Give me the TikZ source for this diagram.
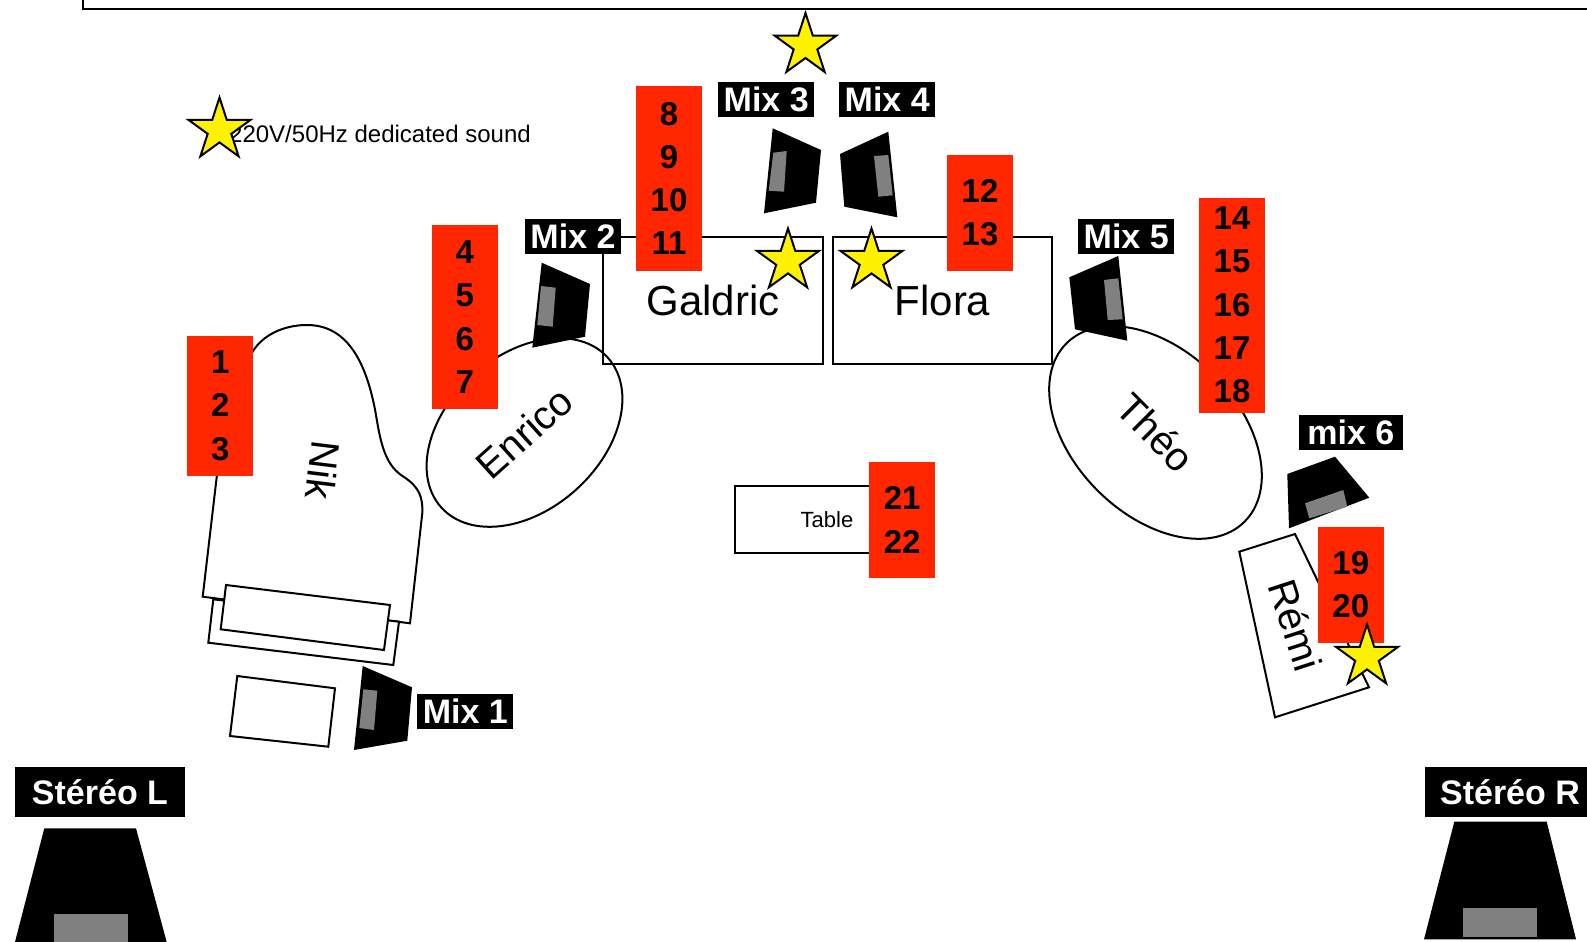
\documentclass[tikz,border=0pt]{standalone}
\usepackage{fontspec}
\setmainfont{Liberation Sans}
\usetikzlibrary{shapes.geometric}
\definecolor{stagered}{RGB}{255,38,0}
\definecolor{conegrey}{RGB}{128,128,128}
\begin{document}
\begin{tikzpicture}[x=1pt,y=-1pt]
	\tikzstyle{Channel} = [fill=stagered, minimum width=65.7, inner sep=0pt, align=center, font=\fontsize{33}{43.3}\selectfont\bfseries]
	\tikzstyle{Mix} = [fill=black, text=white, minimum width=95.7, minimum height=35, inner sep=0pt, font=\fontsize{34}{40}\selectfont\bfseries]
	\tikzstyle{Power} = [star, star points=5, star point ratio=2.618, draw, line width=2, fill=yellow, minimum size=65, inner sep=0pt]
	\tikzstyle{Player} = [ellipse, draw, line width=2, inner sep=0pt, font=\fontsize{40}{48}\selectfont]
	\tikzstyle{Desk} = [rectangle, draw, line width=2, inner sep=0pt, font=\fontsize{42}{50}\selectfont]
	\tikzstyle{Outline} = [draw, line width=2, fill=white]
	\tikzstyle{Wedge} = [fill=black]
	\tikzstyle{Cone} = [fill=conegrey]
	\useasboundingbox (0,0) rectangle (1587,942);
	\draw[line width=2.2] (83,-20) rectangle (1620,9);
	% piano, keys and bench
	\path[Outline] (202.7,596.7) -- (229,372) -- (247,372) .. controls (247,345) and (274,325) .. (307,325) .. controls (345,325) and (366,358) .. (376,415) .. controls (381,446) and (386,466) .. (404,477) .. controls (419,487) and (423,497) .. (422.3,513) -- (410,623.3) -- cycle;
	\path[Outline] (213.3,599.3) -- (399,621.7) -- (393.3,665) -- (208.3,642.7) -- cycle;
	\path[Outline] (226,585) -- (390,605) -- (384,650) -- (220.7,629.3) -- cycle;
	\path[Outline] (237.3,676) -- (335,688.3) -- (328.3,746.7) -- (230,736) -- cycle;
	\node (Nik) at (323.3,470) [rotate=-97, font=\fontsize{40}{48}\selectfont] {Nik};
	% players
	\node (Enrico) at (524.5,432.5) [Player, minimum width=224, minimum height=154, rotate=42] {Enrico};
	\node (Theo) at (1155.5,432.5) [Player, minimum width=252, minimum height=164, rotate=-45] {Théo};
	\node (Galdric) at (713,300.5) [Desk, minimum width=220, minimum height=127] {Galdric};
	\node (Flora) at (942.5,300.5) [Desk, minimum width=219, minimum height=127] {Flora};
	\node (Table) at (827,519.5) [Desk, minimum width=184, minimum height=67, font=\fontsize{22}{26}\selectfont] {Table};
	\path[Outline] (1239.3,551.7) -- (1295,534) -- (1369,687.3) -- (1275,717.3) -- cycle;
	\node (Remi) at (1296,625) [rotate=-72, font=\fontsize{40}{48}\selectfont] {Rémi};
	% monitors
	\fill[Wedge] (362.7,666) -- (412,687.3) -- (407.3,740.7) -- (354,750) -- cycle;
	\fill[Cone] (363.3,689.3) -- (377.3,690.7) -- (374,730) -- (359.3,728) -- cycle;
	\fill[Wedge] (541.7,262.7) -- (590,284) -- (585,336.7) -- (532.3,347.7) -- cycle;
	\fill[Cone] (541,286) -- (555.7,287.7) -- (552.7,326.7) -- (537.3,325) -- cycle;
	\fill[Wedge] (772.7,128.3) -- (821,150) -- (816,202.7) -- (764,213.3) -- cycle;
	\fill[Cone] (773.3,152.7) -- (786.7,151) -- (784,191.7) -- (768.7,190.7) -- cycle;
	\fill[Wedge] (840,154) -- (888.3,131.7) -- (897.3,217.3) -- (844.3,206.7) -- cycle;
	\fill[Cone] (874,156) -- (888.3,155) -- (892.7,195.3) -- (878.3,196.7) -- cycle;
	\fill[Wedge] (1069.3,277.3) -- (1118.3,256) -- (1127.3,340.7) -- (1075,329.3) -- cycle;
	\fill[Cone] (1104,280) -- (1118.3,278.3) -- (1122.7,319.3) -- (1107.7,320) -- cycle;
	\fill[Wedge] (1287.3,474) -- (1335,456.7) -- (1369.3,497.7) -- (1289,528.3) -- cycle;
	\fill[Cone] (1305,503.3) -- (1343.3,490) -- (1347.3,506.7) -- (1309.3,518.3) -- cycle;
	% stereo
	\fill[Wedge] (44.3,828.3) -- (136,828.3) -- (166.7,942) -- (15,942) -- cycle;
	\fill[Cone] (54,914) rectangle (127.7,942);
	\fill[Wedge] (1454.3,821.7) -- (1546.7,821.7) -- (1576,939.3) -- (1424,939.3) -- cycle;
	\fill[Cone] (1463.3,908.3) rectangle (1537.3,936.7);
	% inputs
	\node (Ch1) at (220.2,405.8) [Channel, minimum height=139.7] {1\\2\\3};
	\node (Ch4) at (464.8,317.2) [Channel, minimum height=184.3] {4\\5\\6\\7};
	\node (Ch8) at (669,178.5) [Channel, minimum height=185] {8\\9\\10\\11};
	\node (Ch12) at (980,212.8) [Channel, minimum height=115.7] {12\\13};
	\node (Ch14) at (1232,305) [Channel, minimum height=215] {14\\15\\16\\17\\18};
	\node (Ch19) at (1350.8,584.8) [Channel, minimum height=115.7] {19\\20};
	\node (Ch21) at (902.2,520) [Channel, minimum height=116] {21\\22};
	% mixes
	\node (Mix1) at (465.3,711.3) [Mix, minimum width=96] {Mix 1};
	\node (Mix2) at (573,236) [Mix] {Mix 2};
	\node (Mix3) at (766.2,99.2) [Mix] {Mix 3};
	\node (Mix4) at (887.2,99.2) [Mix] {Mix 4};
	\node (Mix5) at (1126.2,236.2) [Mix] {Mix 5};
	\node (Mix6) at (1350.8,432.8) [Mix, minimum width=103.7] {mix 6};
	\node (StereoL) at (100,792) [Mix, minimum width=170, minimum height=49.3] {Stéréo L};
	\node (StereoR) at (1510,792) [Mix, minimum width=170, minimum height=49.3] {Stéréo R};
	% power
	\node (Legend) at (229,142) [anchor=base west, inner sep=0pt, font=\fontsize{24}{28}\selectfont] {220V/50Hz dedicated sound};
	\node (P0) at (219.5,130) [Power] {};
	\node (P1) at (805.5,45.6) [Power] {};
	\node (P2) at (788,261) [Power] {};
	\node (P3) at (871.5,261) [Power] {};
	\node (P4) at (1367,657) [Power] {};
\end{tikzpicture}
\end{document}
